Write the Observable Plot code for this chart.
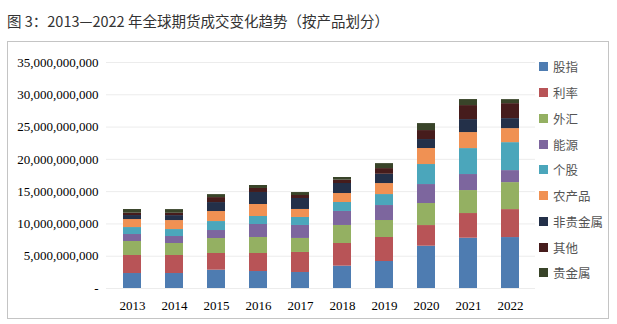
<!DOCTYPE html>
<html><head><meta charset="utf-8">
<script src="https://cdn.jsdelivr.net/npm/d3@7"></script>
<script src="https://cdn.jsdelivr.net/npm/@observablehq/plot@0.6"></script>
<style>
body{margin:0;background:#fff;}
#wrap{position:relative;width:617px;height:324px;overflow:hidden;background:#fff;}
#title{position:absolute;left:7px;top:11px;font-family:"Noto Sans CJK SC";font-size:14.5px;line-height:20px;color:#333;white-space:nowrap;}
#frame{position:absolute;left:7px;top:41px;width:602px;height:278px;border:1px solid #c4c4c4;box-sizing:border-box;}
#chart{position:absolute;left:0;top:41px;}
#legend{position:absolute;left:539px;top:54px;font-family:"Noto Sans CJK SC";font-size:12.5px;color:#555;}
.item{display:flex;align-items:center;height:25.75px;white-space:nowrap;}
.sw{width:9px;height:9px;margin-right:5px;flex:none;}
</style></head>
<body>
<div id="wrap">
  <div id="title">图 3：2013—2022 年全球期货成交变化趋势（按产品划分）</div>
  <div id="frame"></div>
  <div id="chart"></div>
  <div id="legend"></div>
</div>
<script>
const years = ["2013","2014","2015","2016","2017","2018","2019","2020","2021","2022"];
const products = ["股指","利率","外汇","能源","个股","农产品","非贵金属","其他","贵金属"];
const colors = ["#4E7CB1","#B85457","#94B062","#7D669E","#4BA6BB","#F09153","#233049","#461C1C","#394429"];
// values in billions of contracts
const guzhi        = [2.32,2.32,2.84,2.63,2.48,3.46,4.18,6.55,7.79,7.89];
const lilv         = [2.79,2.79,2.58,2.79,3.10,3.51,3.72,3.20,3.82,4.33];
const waihui       = [2.17,1.86,2.32,2.48,2.17,2.79,2.63,3.41,3.56,4.18];
const nengyuan     = [1.08,1.08,1.24,2.01,2.01,2.17,2.32,2.94,2.48,1.86];
const gegu         = [1.08,1.08,1.39,1.24,1.24,1.39,1.70,3.10,4.02,4.33];
const nongchanpin  = [1.24,1.39,1.55,1.86,1.24,1.39,1.70,2.48,2.48,2.17];
const feiguijinshu = [0.62,0.77,1.39,1.86,1.70,1.55,1.44,1.39,2.01,1.55];
const qita         = [0.36,0.36,0.77,0.62,0.46,0.52,0.88,1.39,2.17,2.32];
const guijinshu    = [0.57,0.57,0.46,0.46,0.46,0.41,0.77,1.08,0.93,0.62];
const yTicks = [0,5e9,10e9,15e9,20e9,25e9,30e9,35e9];

const series = [guzhi,lilv,waihui,nengyuan,gegu,nongchanpin,feiguijinshu,qita,guijinshu];
const table = [];
products.forEach((p,i)=>years.forEach((y,j)=>table.push({year:y, product:p, value:series[i][j]*1e9})));

const chart = Plot.plot({
  width:617, height:283,
  marginLeft:106, marginRight:82, marginTop:21, marginBottom:36,
  style:{fontFamily:"'Liberation Serif', serif", fontSize:"13px", color:"#000", background:"transparent"},
  x:{domain:years, paddingInner:0.58, paddingOuter:0.29, label:null},
  y:{domain:[0,35e9], label:null},
  color:{domain:products, range:colors},
  marks:[
    Plot.gridY(yTicks,{stroke:"#ececec", strokeOpacity:1}),
    Plot.axisY(yTicks,{tickSize:0, tickPadding:8, tickFormat:d=>d===0?"-":d3.format(",")(d), label:null}),
    Plot.axisX({tickSize:0, tickPadding:12, label:null}),
    Plot.barY(table, Plot.stackY({x:"year", y:"value", fill:"product", order:products}))
  ]
});
document.getElementById("chart").appendChild(chart);

const lg = document.getElementById("legend");
products.forEach((p,i)=>{
  const it = document.createElement("div"); it.className="item";
  const sw = document.createElement("span"); sw.className="sw"; sw.style.background=colors[i];
  const tx = document.createElement("span"); tx.textContent=p;
  it.appendChild(sw); it.appendChild(tx); lg.appendChild(it);
});
</script>
</body></html>
